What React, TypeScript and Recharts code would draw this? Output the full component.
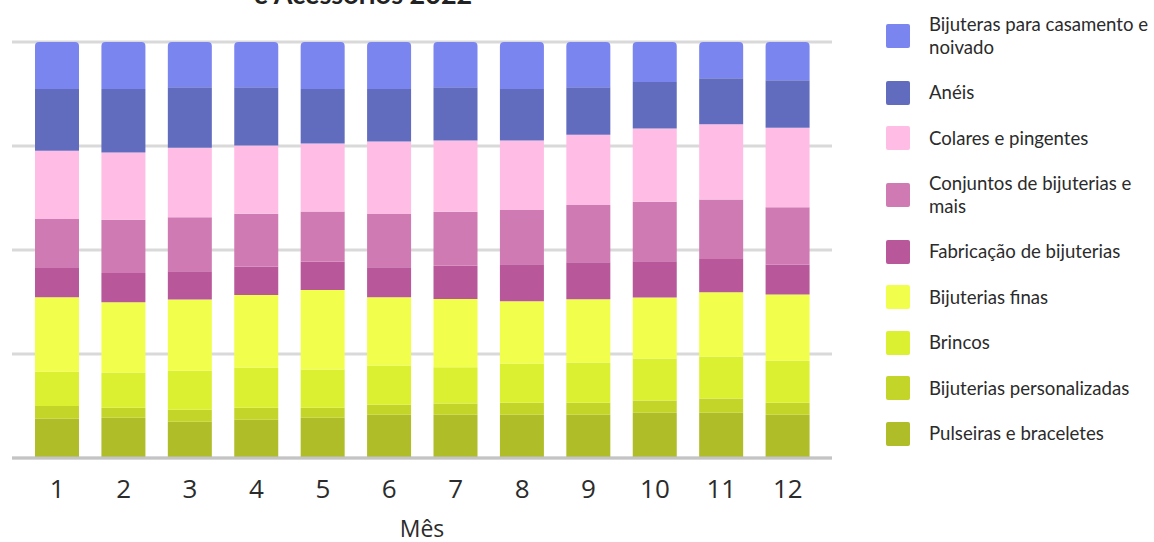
import React from 'react';
import { BarChart, Bar, XAxis, YAxis, CartesianGrid } from 'recharts';

// Share of sales per month (%)
const months = ['1', '2', '3', '4', '5', '6', '7', '8', '9', '10', '11', '12'];

const pulseiras = [9.4, 9.7, 8.7, 9.2, 9.7, 10.4, 10.4, 10.4, 10.4, 10.9, 10.9, 10.4];
const personalizadas = [3.1, 2.4, 2.9, 2.9, 2.4, 2.4, 2.7, 2.9, 2.9, 2.9, 3.4, 2.9];
const brincos = [8.2, 8.5, 9.4, 9.7, 9.2, 9.4, 8.7, 9.4, 9.7, 10.1, 10.1, 10.1];
const finas = [17.9, 16.9, 17.1, 17.4, 19.1, 16.4, 16.4, 15.0, 15.2, 14.7, 15.5, 15.9];
const fabricacao = [7.0, 7.0, 6.8, 6.8, 6.8, 7.2, 8.0, 8.9, 8.9, 8.7, 8.0, 7.2];
const conjuntos = [11.8, 12.8, 13.0, 12.8, 12.1, 12.8, 13.0, 13.0, 13.8, 14.3, 14.3, 13.8];
const colares = [16.4, 16.2, 16.7, 16.4, 16.4, 17.4, 17.1, 16.7, 16.9, 17.6, 18.1, 19.1];
const aneis = [14.8, 15.3, 14.5, 14.0, 13.1, 12.6, 12.8, 12.4, 11.4, 11.2, 11.1, 11.4];
const casamento = [11.3, 11.3, 10.9, 10.9, 11.3, 11.3, 10.9, 11.3, 10.9, 9.6, 8.7, 9.2];

// bottom of the stack first
const SERIES = [
  { key: 'pulseiras', name: 'Pulseiras e braceletes', color: '#AFBD28', values: pulseiras },
  { key: 'personalizadas', name: 'Bijuterias personalizadas', color: '#C4D52A', values: personalizadas },
  { key: 'brincos', name: 'Brincos', color: '#DBF030', values: brincos },
  { key: 'finas', name: 'Bijuterias finas', color: '#F1FF4C', values: finas },
  { key: 'fabricacao', name: 'Fabricação de bijuterias', color: '#B8589B', values: fabricacao },
  { key: 'conjuntos', name: 'Conjuntos de bijuterias e mais', color: '#D07AB4', values: conjuntos },
  { key: 'colares', name: 'Colares e pingentes', color: '#FFBDE5', values: colares },
  { key: 'aneis', name: 'Anéis', color: '#626CBE', values: aneis },
  { key: 'casamento', name: 'Bijuteras para casamento e noivado', color: '#7B85F0', values: casamento },
];

const data = months.map((m, i) => {
  const row: Record<string, string | number> = { month: m };
  SERIES.forEach((s) => {
    row[s.key] = s.values[i];
  });
  return row;
});

const TEXT = '#2b2b2b';

export default function App() {
  const legendItems = [...SERIES].reverse();
  return (
    <div style={{ position: 'absolute', left: 0, top: 0, width: 1154, height: 542, background: '#fff', overflow: 'hidden' }}>
      <div
        style={{
          position: 'absolute',
          left: 163,
          width: 400,
          top: -22,
          textAlign: 'center',
          fontFamily: 'Lato, sans-serif',
          fontWeight: 700,
          fontSize: 27,
          lineHeight: '32px',
          color: '#222',
        }}
      >
        e Acessórios 2022
      </div>
      <BarChart
        width={850}
        height={542}
        data={data}
        stackOffset="expand"
        margin={{ top: 42, right: 18, bottom: 0, left: 12 }}
      >
        <CartesianGrid vertical={false} stroke="#d9d9d9" strokeWidth={3} />
        <YAxis hide domain={[0, 1]} ticks={[0, 0.25, 0.5, 0.75, 1]} />
        <XAxis
          dataKey="month"
          height={84}
          padding={{ left: 12, right: 11 }}
          tickLine={false}
          axisLine={{ stroke: '#c4c4c4', strokeWidth: 3 }}
          tickMargin={16}
          tick={{ fill: TEXT, fontSize: 26, fontFamily: '"Liberation Sans Narrow", "Open Sans", sans-serif' }}
          label={{
            value: 'Mês',
            position: 'insideBottom',
            offset: 5,
            fill: TEXT,
            fontSize: 23,
            fontFamily: '"Liberation Sans Narrow", "Open Sans", sans-serif',
          }}
        />
        {SERIES.map((s, i) => (
          <Bar
            key={s.key}
            dataKey={s.key}
            name={s.name}
            stackId="a"
            fill={s.color}
            barSize={44}
            radius={i === SERIES.length - 1 ? [4, 4, 0, 0] : 0}
            isAnimationActive={false}
          />
        ))}
      </BarChart>
      <div
        style={{
          position: 'absolute',
          left: 886,
          top: 2,
          width: 268,
          fontFamily: 'Lato, sans-serif',
          fontSize: 18.6,
          lineHeight: '23px',
          color: TEXT,
        }}
      >
        {legendItems.map((s) => (
          <div
            key={s.key}
            style={{ display: 'flex', alignItems: 'center', height: s.name.length > 26 ? 68 : 45.5 }}
          >
            <div style={{ width: 24, height: 24, borderRadius: 2, background: s.color, flexShrink: 0, marginRight: 19 }} />
            <div style={{ width: 225 }}>{s.name}</div>
          </div>
        ))}
      </div>
    </div>
  );
}
